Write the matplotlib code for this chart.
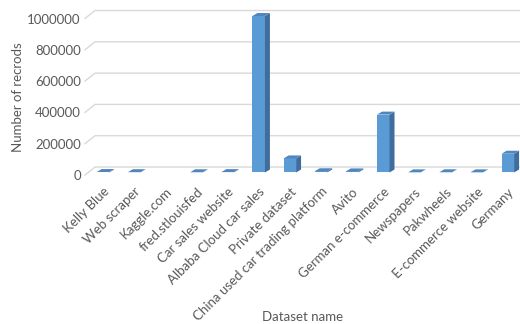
import numpy as np
import matplotlib.pyplot as plt
from matplotlib.patches import Polygon

plt.rcParams['font.family'] = ['Lato', 'DejaVu Sans']

# data
datasets = ['Kelly Blue', 'Web scraper', 'Kaggle.com', 'fred.stlouisfed',
            'Car sales website', 'Albaba Cloud car sales', 'Private dataset',
            'China used car trading platform', 'Avito', 'German e-commerce',
            'Newspapers', 'Pakwheels', 'E-commerce website', 'Germany']
records = [3000, 2000, np.nan, 1500, 2500, 1000000, 90000,
           8000, 7000, 370000, 1000, 1500, 1000, 120000]
y_ticks = [0, 200000, 400000, 600000, 800000, 1000000]

# colours
front_col = '#5B9BD5'
side_col = '#3F6E9E'
top_col = '#4F86BF'
grid_col = '#D9D9D9'
text_col = '#595959'

# fake 3D depth (in data units)
bar_w = 0.40
bar_base = 16000
bar_dx, bar_dy = 0.16, 19000
wall_dx, wall_dy = 0.32, 51000

fig = plt.figure(figsize=(5.2, 3.24), dpi=100)
ax = fig.add_axes([85 / 520, 149 / 324, 435 / 520, 170 / 324])
ax.set_xlim(-0.578, 13.39)
ax.set_ylim(0, 1086300)

# back wall gridlines with a short slanted bit for the side wall
x0, x1 = ax.get_xlim()
for g in y_ticks:
    ax.plot([x0, x0 + wall_dx, x1], [g, g + wall_dy, g + wall_dy],
            color=grid_col, lw=1, zorder=1, clip_on=False)

x = np.arange(len(datasets))
for xi, v in zip(x, records):
    if np.isnan(v):
        continue
    left, right = xi - bar_w / 2, xi + bar_w / 2
    top = bar_base + v
    ax.bar(xi, v, width=bar_w, bottom=bar_base, color=front_col,
           linewidth=0, zorder=3)
    ax.add_patch(Polygon([(right, bar_base), (right + bar_dx, bar_base + bar_dy),
                          (right + bar_dx, top + bar_dy), (right, top)],
                         closed=True, facecolor=side_col, lw=0, zorder=3,
                         clip_on=False))
    ax.add_patch(Polygon([(left, top), (left + bar_dx, top + bar_dy),
                          (right + bar_dx, top + bar_dy), (right, top)],
                         closed=True, facecolor=top_col, lw=0, zorder=3,
                         clip_on=False))

ax.set_yticks(y_ticks)
ax.set_yticklabels([str(t) for t in y_ticks], fontsize=9.5, color=text_col)
ax.set_xticks(x)
ax.set_xticklabels(datasets, rotation=45, ha='right', rotation_mode='anchor',
                   fontsize=9.5, color=text_col)
ax.tick_params(axis='both', length=0)
ax.tick_params(axis='y', pad=3)
ax.tick_params(axis='x', pad=7.5)
for s in ax.spines.values():
    s.set_visible(False)

fig.text(18 / 520, 1 - 97 / 324, 'Number of recrods', rotation=90,
         ha='center', va='center', fontsize=9.5, color=text_col)
fig.text(303 / 520, 1 - 317 / 324, 'Dataset name', ha='center', va='center',
         fontsize=9.5, color=text_col)

fig.savefig('out.png', dpi=100)
